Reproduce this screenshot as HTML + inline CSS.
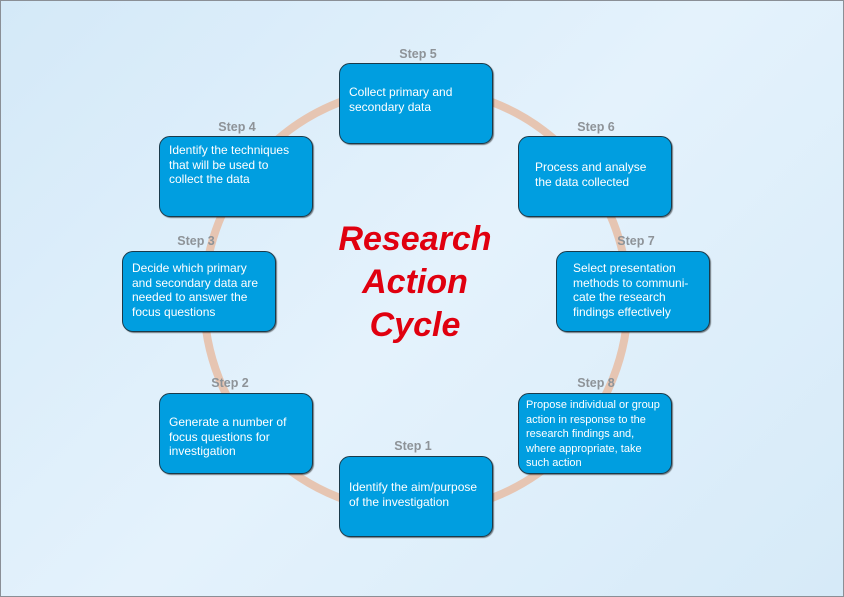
<!DOCTYPE html>
<html><head><meta charset="utf-8"><style>
body{margin:0;width:844px;height:597px;overflow:hidden;background:#fff;font-family:"Liberation Sans",sans-serif}
.frame{position:absolute;left:0;top:0;width:842px;height:595px;border:1px solid #8a8f96;background:linear-gradient(135deg,#d4e9f8 0%,#e4f2fc 50%,#d6eaf8 100%)}
.box{position:absolute;width:154px;height:81px;box-sizing:border-box;background:#009ee0;border:1px solid #1a3a4a;border-radius:11px;box-shadow:1px 1px 1px rgba(0,0,0,.5);color:#fff;font-size:12px;line-height:14.5px;padding:0 8px 0 9px;white-space:nowrap;overflow:hidden}
.lbl{position:absolute;color:#8e9398;font-weight:bold;font-size:12.5px;transform:translateX(-50%)}
.title{position:absolute;left:315px;width:200px;text-align:center;color:#e0000f;font-weight:bold;font-style:italic;font-size:34px;line-height:43px;top:218px}
</style></head><body>
<div class="frame"></div>
<svg style="position:absolute;left:0;top:0" width="844" height="597"><circle cx="416" cy="300" r="212" fill="none" stroke="#e6c5b2" stroke-width="8"/></svg>
<div class="title">Research<br>Action<br>Cycle</div>
<div class="lbl" style="left:418px;top:47px">Step 5</div>
<div class="lbl" style="left:237px;top:120px">Step 4</div>
<div class="lbl" style="left:596px;top:120px">Step 6</div>
<div class="lbl" style="left:196px;top:234px">Step 3</div>
<div class="lbl" style="left:636px;top:234px">Step 7</div>
<div class="lbl" style="left:230px;top:376px">Step 2</div>
<div class="lbl" style="left:596px;top:376px">Step 8</div>
<div class="lbl" style="left:413px;top:439px">Step 1</div>
<div class="box" style="left:339px;top:63px;padding-top:21px">Collect primary and<br>secondary data</div>
<div class="box" style="left:159px;top:136px;padding-top:6px">Identify the techniques<br>that will be used to<br>collect the data</div>
<div class="box" style="left:518px;top:136px;padding-top:23px;padding-left:16px">Process and analyse<br>the data collected</div>
<div class="box" style="left:122px;top:251px;padding-top:9px">Decide which primary<br>and secondary data are<br>needed to answer the<br>focus questions</div>
<div class="box" style="left:556px;top:251px;padding-top:9px;padding-left:16px">Select presentation<br>methods to communi-<br>cate the research<br>findings effectively</div>
<div class="box" style="left:159px;top:393px;padding-top:21px">Generate a number of<br>focus questions for<br>investigation</div>
<div class="box" style="left:518px;top:393px;padding-top:4px;padding-left:7px;font-size:11px;line-height:14.5px">Propose individual or group<br>action in response to the<br>research findings and,<br>where appropriate, take<br>such action</div>
<div class="box" style="left:339px;top:456px;padding-top:23px">Identify the aim/purpose<br>of the investigation</div>
</body></html>
